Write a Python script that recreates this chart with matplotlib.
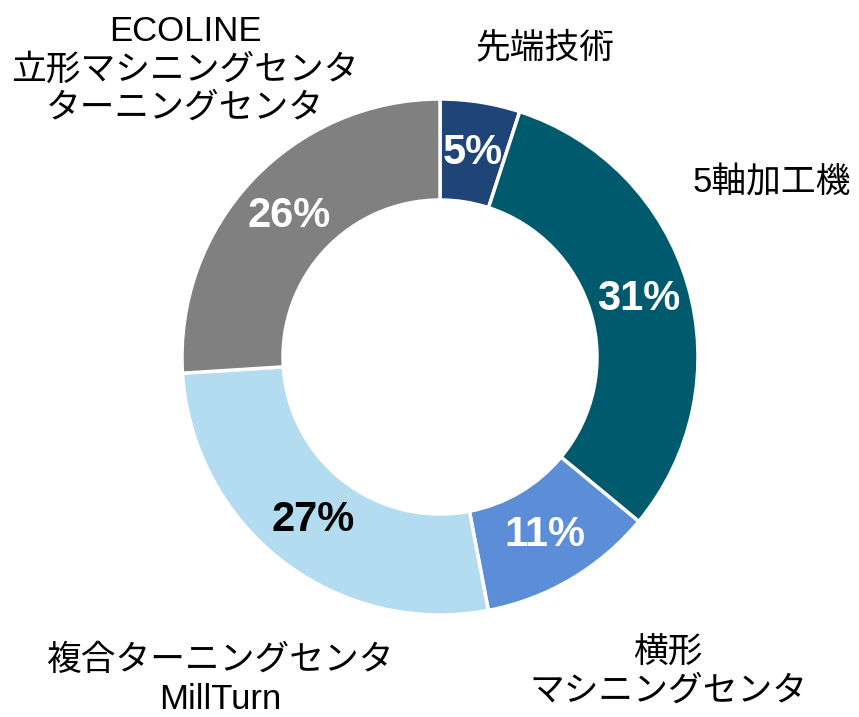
import matplotlib.pyplot as plt

# data
categories = ['先端技術', '5軸加工機', '横形\nマシニングセンタ', '複合ターニングセンタ\nMillTurn',
              'ECOLINE\n立形マシニングセンタ\nターニングセンタ']
shares = [5, 31, 11, 27, 26]
colors = ['#1F4477', '#005A6E', '#5B8ED7', '#B4DCF0', '#808080']
pct_colors = ['white', 'white', 'white', 'black', 'white']

plt.rcParams['font.family'] = ['Liberation Sans', 'Noto Sans CJK JP', 'DejaVu Sans']

W, H = 859, 717
fig = plt.figure(figsize=(W / 100, H / 100), dpi=100)
ax = fig.add_axes([0, 0, 1, 1])

cx, cy, r = 440, H - 357, 258
wedges, texts, autotexts = ax.pie(
    shares, colors=colors, startangle=90, counterclock=False,
    center=(cx, cy), radius=r, autopct='%d%%', pctdistance=0.80,
    wedgeprops=dict(width=r - 157, edgecolor='white', linewidth=2.5),
    frame=True)
ax.set_xlim(0, W)
ax.set_ylim(0, H)
ax.set_aspect('equal')
ax.axis('off')

for t, c in zip(autotexts, pct_colors):
    t.set_color(c)
    t.set_fontsize(30)
    t.set_fontweight('bold')

# outer labels
label_pos = [(545, 48), (772, 183), (668, 672), (220, 680), (185, 70)]
for name, (x, y) in zip(categories, label_pos):
    ax.text(x, H - y, name, ha='center', va='center', fontsize=25,
            linespacing=1.2)

fig.savefig('out.png', dpi=100)
